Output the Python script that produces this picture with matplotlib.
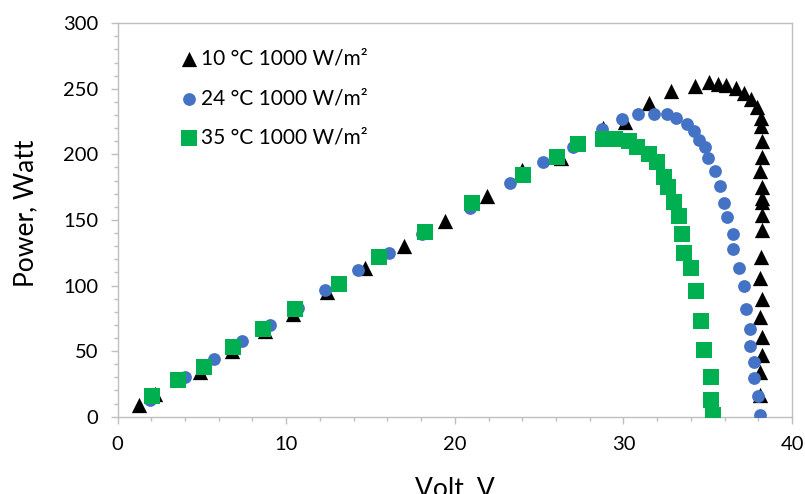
import matplotlib
matplotlib.use('Agg')
import matplotlib.pyplot as plt
from matplotlib.ticker import MultipleLocator

plt.rcParams['font.family'] = ['Lato', 'DejaVu Sans']

# 10 °C, 1000 W/m² (triangles)
v10 = [1.3, 2.2, 4.9, 6.8, 8.75, 10.4, 12.4, 14.7, 17.0, 19.4, 21.9, 24.0, 26.3,
       28.8, 30.1, 31.5, 32.8, 34.25, 35.05, 35.6, 36.1, 36.7, 37.15, 37.55, 37.9,
       38.15, 38.15, 38.2, 38.2, 38.1, 38.2, 38.2, 38.2, 38.2, 38.2, 38.15, 38.1,
       38.2, 38.1, 38.2, 38.2, 38.1, 38.1]
p10 = [9, 17, 34, 50, 65, 78, 95, 113, 130, 149, 168, 188, 197,
       220, 225, 239, 248, 252, 255, 254, 253, 250.5, 247, 242, 236.5,
       228, 222, 210, 198, 187, 175, 167, 164, 154, 142, 122, 106,
       90, 76, 61, 47, 34, 16.5]

# 24 °C, 1000 W/m² (circles)
v24 = [1.9, 4.0, 5.7, 7.4, 9.05, 10.7, 12.3, 14.25, 16.1, 18.05, 20.9, 23.3,
       25.25, 27.0, 28.7, 29.9, 30.85, 31.8, 32.6, 33.1, 33.75, 34.2, 34.45,
       34.85, 35.0, 35.4, 35.7, 35.95, 36.15, 36.5, 36.5, 36.85, 37.15, 37.25,
       37.5, 37.5, 37.75, 37.75, 37.95, 38.1]
p24 = [13, 30.5, 44, 58, 70, 83, 96.5, 111.5, 125, 139.5, 159, 178,
       194, 206, 219, 227, 231, 231, 231, 227.5, 223, 218, 211,
       205.5, 197.5, 187, 176, 163, 152.5, 139.5, 128, 113.5, 100, 82,
       67, 54, 41.5, 29.5, 15.5, 1]

# 35 °C, 1000 W/m² (squares)
v35 = [2.05, 3.6, 5.1, 6.85, 8.65, 10.5, 13.15, 15.5, 18.25, 21.0, 24.05, 26.05,
       27.3, 28.8, 29.5, 30.3, 30.8, 31.5, 32.0, 32.4, 32.65, 33.0, 33.3, 33.5,
       33.6, 34.0, 34.3, 34.6, 34.8, 35.2, 35.2, 35.3]
p35 = [16, 28, 38, 53, 67, 82, 101, 122, 141, 163, 184, 198,
       208, 212, 212, 210, 206, 200, 194, 183, 175.5, 164, 153, 139,
       125, 113, 96, 73, 51, 30, 12.5, 1]

labels = ['10 °C 1000 W/m²', '24 °C 1000 W/m²', '35 °C 1000 W/m²']

fig = plt.figure(figsize=(8.05, 4.94), dpi=100)
ax = fig.add_axes([0.146, 0.1565, 0.838, 0.7965])

ax.scatter(v10, p10, marker='^', s=11**2, color='black', linewidths=0, label=labels[0], zorder=3)
ax.scatter(v24, p24, marker='o', s=9.2**2, color='#4472C4', linewidths=0, label=labels[1], zorder=4)
ax.scatter(v35, p35, marker='s', s=12.2**2, color='#00B050', linewidths=0, label=labels[2], zorder=5)

ax.set_xlim(0, 40)
ax.set_ylim(0, 300)
ax.xaxis.set_major_locator(MultipleLocator(10))
ax.xaxis.set_minor_locator(MultipleLocator(2))
ax.yaxis.set_major_locator(MultipleLocator(50))
ax.yaxis.set_minor_locator(MultipleLocator(10))

gray = '#BFBFBF'
for sp in ax.spines.values():
    sp.set_color(gray)
    sp.set_linewidth(1.0)
ax.tick_params(which='major', direction='out', length=5, width=1.0, color=gray,
               labelsize=14.5, labelcolor='black')
ax.tick_params(which='minor', direction='out', length=3, width=1.0, color=gray)
ax.tick_params(axis='x', which='major', pad=9)
ax.tick_params(axis='y', which='major', pad=9)

# x label sits low, partly past the bottom edge as in the original
ax.set_xlabel('Volt. V', fontsize=19, labelpad=17)
ax.set_ylabel('Power, Watt', fontsize=19)
ax.yaxis.set_label_coords(-0.118, 0.518)

ax.legend(loc='upper left', bbox_to_anchor=(0.078, 0.957), frameon=False, fontsize=15,
          handletextpad=0.1, labelspacing=0.94, borderaxespad=0, handlelength=1.0)

plt.savefig('out.png', dpi=100)
